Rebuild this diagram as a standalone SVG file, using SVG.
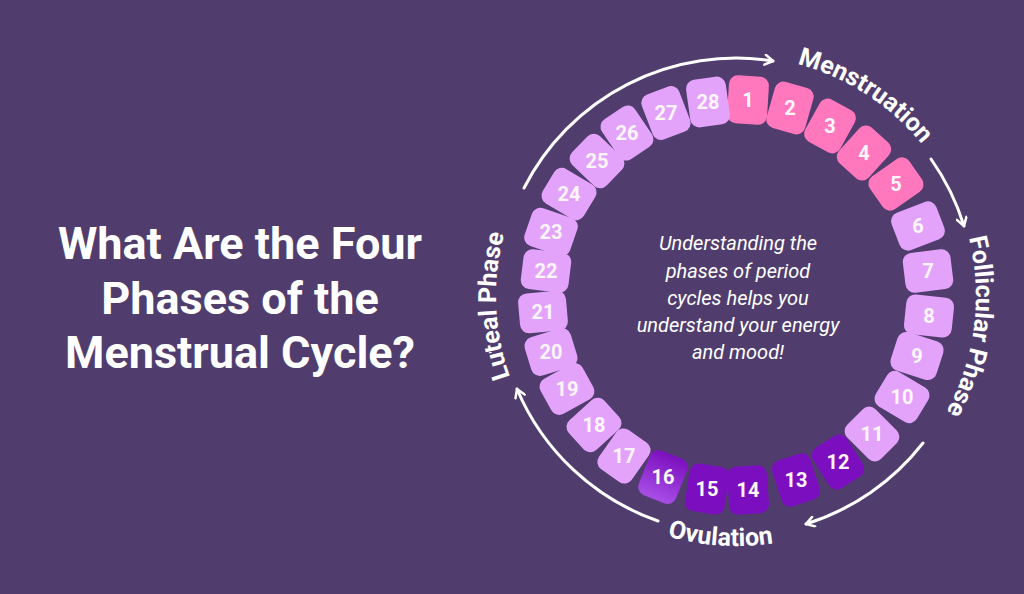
<svg xmlns="http://www.w3.org/2000/svg" width="1024" height="594" viewBox="0 0 1024 594">
<style>
.t{font-family:Roboto,"Liberation Sans",sans-serif;font-weight:700;fill:#fff}
.n{font-family:Roboto,"Liberation Sans",sans-serif;font-weight:700;font-size:20px;fill:#fff6fc;text-anchor:middle}
.p{fill:#ff78bd}.l{fill:#e4a3fb}.v{fill:#7b0fbf}
.arc{fill:none;stroke:#fff;stroke-width:3;stroke-linecap:round}
.lab{font-family:Roboto,"Liberation Sans",sans-serif;font-weight:700;font-size:25px;fill:#fff}
</style>
<defs>
<marker id="ah" viewBox="0 0 12 12" refX="10" refY="6" markerWidth="12" markerHeight="12" markerUnits="userSpaceOnUse" orient="auto">
<path d="M2,1 L10,6 L2,11" fill="none" stroke="#fff" stroke-width="2.5" stroke-linecap="round" stroke-linejoin="round"/>
</marker>
<linearGradient id="g16" x1="0" y1="0" x2="0" y2="1"><stop offset="0" stop-color="#7b0fbf"/><stop offset="1" stop-color="#a84ee6"/></linearGradient>
<path id="cw" d="M736,56 A240,240 0 1,1 736,536 A240,240 0 1,1 736,56"/>
<path id="ccw" d="M486,296 A250,250 0 0,0 986,296"/>
<rect id="tile" x="-20" y="-24" width="40" height="48" rx="9"/>
</defs>
<rect width="1024" height="594" fill="#503d6e"/>
<g id="title">
<text class="t" font-size="45" text-anchor="middle"><tspan x="240" y="259">What Are the Four</tspan><tspan x="240" y="314">Phases of the</tspan><tspan x="240" y="368">Menstrual Cycle?</tspan></text>
</g>
<g id="center-text">
<text font-family="Roboto,'Liberation Sans',sans-serif" font-style="italic" font-size="20" fill="#fff" text-anchor="middle"><tspan x="738" y="250">Understanding the</tspan><tspan x="738" y="278">phases of period</tspan><tspan x="738" y="305">cycles helps you</tspan><tspan x="738" y="332">understand your energy</tspan><tspan x="738" y="359">and mood!</tspan></text>
</g>
<g id="tiles">
<use href="#tile" class="p" transform="translate(748,100) rotate(3.5)"/>
<use href="#tile" class="p" transform="translate(790,108) rotate(16)"/>
<use href="#tile" class="p" transform="translate(830,126) rotate(29)"/>
<use href="#tile" class="p" transform="translate(864,153) rotate(42)"/>
<use href="#tile" class="p" transform="translate(896,184) rotate(55)"/>
<use href="#tile" class="l" transform="translate(918,226) rotate(69)"/>
<use href="#tile" class="l" transform="translate(928,271) rotate(83)"/>
<use href="#tile" class="l" transform="translate(929,316) rotate(96)"/>
<use href="#tile" class="l" transform="translate(917,356) rotate(108)"/>
<use href="#tile" class="l" transform="translate(902,397) rotate(121)"/>
<use href="#tile" class="l" transform="translate(872,434) rotate(135)"/>
<use href="#tile" class="v" transform="translate(838,462) rotate(148)"/>
<use href="#tile" class="v" transform="translate(796,480) rotate(162)"/>
<use href="#tile" class="v" transform="translate(748,490) rotate(176)"/>
<use href="#tile" class="v" transform="translate(707,489) rotate(189)"/>
<use href="#tile" fill="url(#g16)" transform="translate(663,477) rotate(202) rotate(180)"/>
<use href="#tile" class="l" transform="translate(624,456) rotate(215)"/>
<use href="#tile" class="l" transform="translate(594,425) rotate(228)"/>
<use href="#tile" class="l" transform="translate(567,389) rotate(241)"/>
<use href="#tile" class="l" transform="translate(551,352) rotate(253)"/>
<use href="#tile" class="l" transform="translate(543,312) rotate(265)"/>
<use href="#tile" class="l" transform="translate(546,271) rotate(277)"/>
<use href="#tile" class="l" transform="translate(551,232) rotate(289)"/>
<use href="#tile" class="l" transform="translate(569,194) rotate(301)"/>
<use href="#tile" class="l" transform="translate(597,161) rotate(314)"/>
<use href="#tile" class="l" transform="translate(627,133) rotate(326)"/>
<use href="#tile" class="l" transform="translate(666,113) rotate(339)"/>
<use href="#tile" class="l" transform="translate(708,102) rotate(352)"/>
</g>
<g id="numbers">
<text class="n" x="748" y="107">1</text><text class="n" x="790" y="115">2</text><text class="n" x="830" y="133">3</text><text class="n" x="864" y="160">4</text><text class="n" x="896" y="191">5</text><text class="n" x="918" y="233">6</text><text class="n" x="928" y="278">7</text><text class="n" x="929" y="323">8</text><text class="n" x="917" y="363">9</text><text class="n" x="902" y="404">10</text><text class="n" x="872" y="441">11</text><text class="n" x="838" y="469">12</text><text class="n" x="796" y="487">13</text><text class="n" x="748" y="497">14</text><text class="n" x="707" y="496">15</text><text class="n" x="663" y="484">16</text><text class="n" x="624" y="463">17</text><text class="n" x="594" y="432">18</text><text class="n" x="567" y="396">19</text><text class="n" x="551" y="359">20</text><text class="n" x="543" y="319">21</text><text class="n" x="546" y="278">22</text><text class="n" x="551" y="239">23</text><text class="n" x="569" y="201">24</text><text class="n" x="597" y="168">25</text><text class="n" x="627" y="140">26</text><text class="n" x="666" y="120">27</text><text class="n" x="708" y="109">28</text>
</g>
<g id="connectors">
<path class="arc" d="M524,188 A238,238 0 0,1 773,61" marker-end="url(#ah)"/>
<path class="arc" d="M931,159 A238,238 0 0,1 964,226" marker-end="url(#ah)"/>
<path class="arc" d="M923,443 A238,238 0 0,1 806,524" marker-end="url(#ah)"/>
<path class="arc" d="M658,521 A238,238 0 0,1 517,389" marker-end="url(#ah)"/>
</g>
<g id="phase-labels">
<text class="lab"><textPath href="#cw" startOffset="62">Menstruation</textPath></text>
<text class="lab"><textPath href="#cw" startOffset="318">Follicular Phase</textPath></text>
<text class="lab"><textPath href="#cw" startOffset="1048">Luteal Phase</textPath></text>
<text class="lab"><textPath href="#ccw" startOffset="323">Ovulation</textPath></text>
</g>
</svg>
